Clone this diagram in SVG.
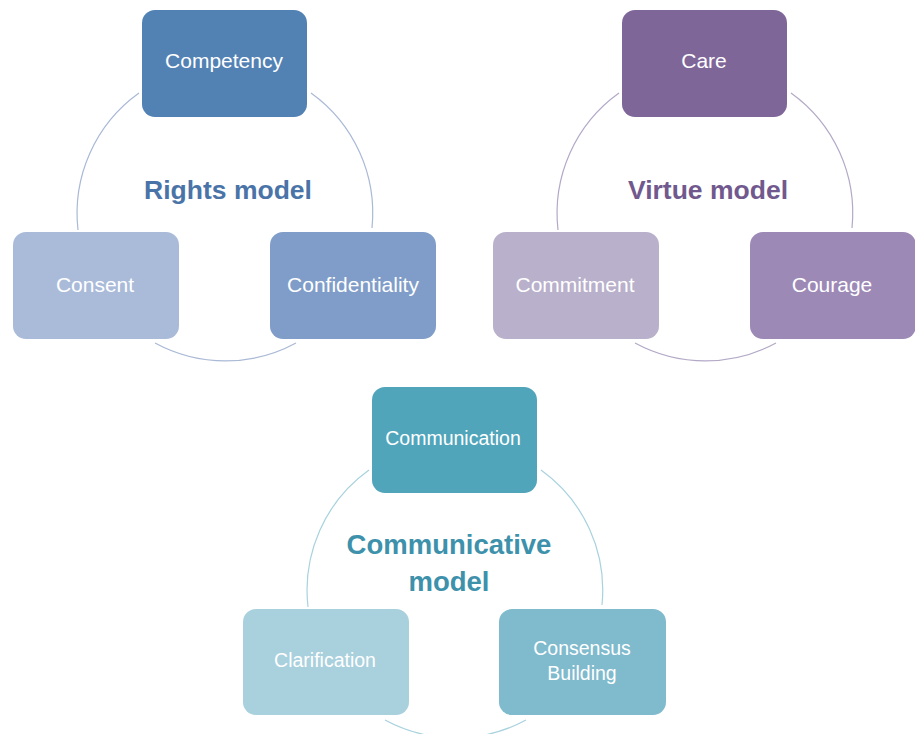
<svg xmlns="http://www.w3.org/2000/svg" width="915" height="734" viewBox="0 0 915 734">
<style>
.lbl{font-family:"Liberation Sans",Arial,sans-serif;font-size:21px;fill:#ffffff;text-anchor:middle}
.lbl2{font-family:"Liberation Sans",Arial,sans-serif;font-size:19.5px;fill:#ffffff;text-anchor:middle}
.title{font-family:"Liberation Sans",Arial,sans-serif;font-size:26.5px;font-weight:bold;text-anchor:middle}
.arc{fill:none;stroke-width:1.2}
</style>
<rect width="915" height="734" fill="#ffffff"/>
<g id="connectors">
  <g>
    <path class="arc" stroke="#a9b9d6" d="M139,93 A148,148 0 0 0 78,230"/>
    <path class="arc" stroke="#a9b9d6" d="M311,93 A148,148 0 0 1 372,228"/>
    <path class="arc" stroke="#a9b9d6" d="M155,343 A148,148 0 0 0 296,343"/>
  </g>
  <g>
    <path class="arc" stroke="#b3a9c7" d="M619,93 A148,148 0 0 0 558,230"/>
    <path class="arc" stroke="#b3a9c7" d="M791,93 A148,148 0 0 1 852,228"/>
    <path class="arc" stroke="#b3a9c7" d="M635,343 A148,148 0 0 0 776,343"/>
  </g>
  <g>
    <path class="arc" stroke="#a8d2de" d="M369,470 A148,148 0 0 0 308,607"/>
    <path class="arc" stroke="#a8d2de" d="M541,470 A148,148 0 0 1 602,605"/>
    <path class="arc" stroke="#a8d2de" d="M385,720 A148,148 0 0 0 526,720"/>
  </g>
</g>
<g id="rights-title"><text class="title" x="228" y="199" fill="#4a74a8">Rights model</text></g>
<g id="competency"><rect x="142" y="10" width="165" height="107" rx="13" fill="#5281b4"/><text class="lbl" x="224" y="68">Competency</text></g>
<g id="consent"><rect x="13" y="232" width="166" height="107" rx="13" fill="#aabbda"/><text class="lbl" x="95" y="292">Consent</text></g>
<g id="confidentiality"><rect x="270" y="232" width="166" height="107" rx="13" fill="#7f9dc8"/><text class="lbl" x="353" y="292">Confidentiality</text></g>

<g id="virtue-title"><text class="title" x="708" y="199" fill="#71598e">Virtue model</text></g>
<g id="care"><rect x="622" y="10" width="165" height="107" rx="13" fill="#7f6699"/><text class="lbl" x="704" y="68">Care</text></g>
<g id="commitment"><rect x="493" y="232" width="166" height="107" rx="13" fill="#b9b0cb"/><text class="lbl" x="575" y="292">Commitment</text></g>
<g id="courage"><rect x="750" y="232" width="166" height="107" rx="13" fill="#9d89b6"/><text class="lbl" x="832" y="292">Courage</text></g>

<g id="communicative-title"><text class="title" fill="#3d91ab" style="font-size:27.5px"><tspan x="449" y="554">Communicative</tspan><tspan x="449" y="591">model</tspan></text></g>
<g id="communication"><rect x="372" y="387" width="165" height="106" rx="13" fill="#50a5bb"/><text class="lbl2" x="453" y="445">Communication</text></g>
<g id="clarification"><rect x="243" y="609" width="166" height="106" rx="13" fill="#a9d0dd"/><text class="lbl2" x="325" y="667">Clarification</text></g>
<g id="consensus-building"><rect x="499" y="609" width="167" height="106" rx="13" fill="#7fbacd"/><text class="lbl2" x="582" y="655">Consensus</text><text class="lbl2" x="582" y="680">Building</text></g>
</svg>
